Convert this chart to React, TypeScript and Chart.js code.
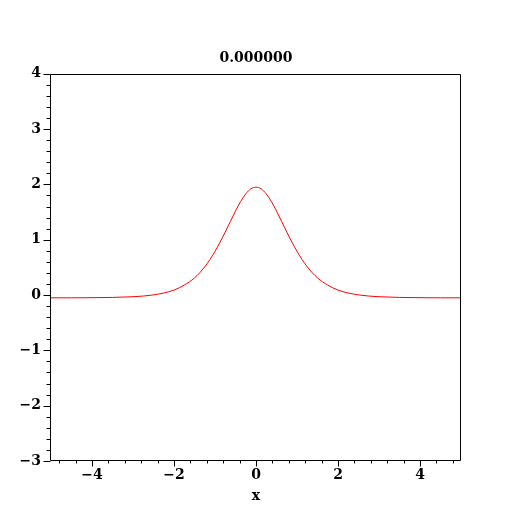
import React, { useEffect, useRef } from 'react';
import { Chart, registerables } from 'chart.js';

Chart.register(...registerables);

const titleText = '0.000000';
const xAxisLabel = 'x';

const xValues = [-5, -4.5, -4, -3.5, -3, -2.75, -2.5, -2.25, -2, -1.75, -1.5, -1.25, -1, -0.75, -0.5, -0.375, -0.25, -0.125, 0,
  0.125, 0.25, 0.375, 0.5, 0.75, 1, 1.25, 1.5, 1.75, 2, 2.25, 2.5, 2.75, 3, 3.5, 4, 4.5, 5];
const yValues = [-0.05, -0.05, -0.047, -0.043, -0.03, -0.018, 0.003, 0.037, 0.09, 0.18, 0.31, 0.51, 0.79, 1.14, 1.52, 1.69, 1.83, 1.92, 1.95,
  1.92, 1.83, 1.69, 1.52, 1.14, 0.79, 0.51, 0.31, 0.18, 0.09, 0.037, 0.003, -0.018, -0.03, -0.043, -0.047, -0.05, -0.05];

const xMin = -5;
const xMax = 5;
const yMin = -3;
const yMax = 4;
const xMajorTicks = [-4, -2, 0, 2, 4];
const yMajorTicks = [-3, -2, -1, 0, 1, 2, 3, 4];
const xMinorStep = 0.4;
const yMinorStep = 0.2;

const FONT = 'DejaVu Serif';

function fmt(v: number): string {
  return v < 0 ? '\u2212' + Math.abs(v) : String(v);
}

function minorList(min: number, max: number, step: number): number[] {
  const out: number[] = [];
  const start = Math.ceil(min / step - 1e-9);
  const end = Math.floor(max / step + 1e-9);
  for (let i = start; i <= end; i++) out.push(+(i * step).toFixed(6));
  return out;
}

const boxPlugin = {
  id: 'boxAndTicks',
  afterDraw(chart: any) {
    const { ctx, chartArea } = chart;
    const xs = chart.scales.x;
    const ys = chart.scales.y;
    ctx.save();
    ctx.strokeStyle = '#000';
    ctx.lineWidth = 1;
    const L = Math.round(chartArea.left) - 0.5;
    const R = Math.round(chartArea.right) - 0.5;
    const T = Math.round(chartArea.top) + 0.5;
    const B = Math.round(chartArea.bottom) - 0.5;
    ctx.beginPath();
    ctx.moveTo(L, T);
    ctx.lineTo(R, T);
    ctx.lineTo(R, B);
    ctx.lineTo(L, B);
    ctx.closePath();
    ctx.stroke();
    for (const v of minorList(yMin, yMax, yMinorStep)) {
      const major = yMajorTicks.some((m) => Math.abs(m - v) < 1e-6);
      const py = Math.round(ys.getPixelForValue(v)) + 0.5;
      const len = major ? 7 : 4;
      ctx.beginPath();
      ctx.moveTo(L, py);
      ctx.lineTo(L - len, py);
      ctx.stroke();
    }
    for (const v of minorList(xMin, xMax, xMinorStep)) {
      const major = xMajorTicks.some((m) => Math.abs(m - v) < 1e-6);
      const px = Math.round(xs.getPixelForValue(v)) + 0.5;
      const len = major ? 6 : 3;
      ctx.beginPath();
      ctx.moveTo(px, B);
      ctx.lineTo(px, B + len);
      ctx.stroke();
    }
    ctx.restore();
  },
};

export default function App() {
  const ref = useRef<HTMLCanvasElement | null>(null);
  useEffect(() => {
    if (!ref.current) return;
    const points = xValues.map((x, i) => ({ x, y: yValues[i] }));
    const chart = new Chart(ref.current, {
      type: 'line',
      data: {
        datasets: [
          {
            data: points,
            borderColor: '#ff0000',
            borderWidth: 1,
            pointRadius: 0,
            fill: false,
            cubicInterpolationMode: 'monotone',
            xAxisID: 'x',
            yAxisID: 'y',
          },
        ],
      },
      options: {
        responsive: false,
        animation: false,
        layout: { padding: 0 },
        plugins: {
          legend: { display: false },
          tooltip: { enabled: false },
          title: {
            display: true,
            text: titleText,
            color: '#000',
            font: { family: FONT, size: 14, weight: 'bold', lineHeight: 1.2 },
            padding: { top: 50, bottom: 7 },
          },
        },
        scales: {
          x: {
            type: 'linear',
            min: xMin,
            max: xMax,
            afterBuildTicks: (s: any) => {
              s.ticks = xMajorTicks.map((v) => ({ value: v }));
            },
            afterFit: (s: any) => {
              s.height = 51;
            },
            grid: { display: true, drawOnChartArea: false, drawTicks: true, tickLength: 6, tickColor: 'rgba(0,0,0,0)' },
            border: { display: false },
            ticks: {
              color: '#000',
              padding: 0,
              maxRotation: 0,
              autoSkip: false,
              font: { family: FONT, size: 14, weight: 'bold', lineHeight: 1.2 },
              callback: (v: any) => fmt(Number(v)),
            },
            title: {
              display: true,
              text: xAxisLabel,
              color: '#000',
              font: { family: FONT, size: 14, weight: 'bold', lineHeight: 1.2 },
              padding: { top: 4, bottom: 7 },
            },
          },
          y: {
            type: 'linear',
            min: yMin,
            max: yMax,
            afterBuildTicks: (s: any) => {
              s.ticks = yMajorTicks.map((v) => ({ value: v }));
            },
            afterFit: (s: any) => {
              s.width = 51;
            },
            grid: { display: true, drawOnChartArea: false, drawTicks: true, tickLength: 7, tickColor: 'rgba(0,0,0,0)' },
            border: { display: false },
            ticks: {
              color: '#000',
              padding: 3,
              autoSkip: false,
              font: { family: FONT, size: 14, weight: 'bold', lineHeight: 1.2 },
              callback: (v: any) => fmt(Number(v)),
            },
          },
          yRight: {
            type: 'linear',
            position: 'right',
            min: yMin,
            max: yMax,
            display: true,
            afterFit: (s: any) => {
              s.width = 51;
            },
            grid: { display: false, drawTicks: false },
            border: { display: false },
            ticks: { display: false },
          },
        },
      },
      plugins: [boxPlugin],
    } as any);
    return () => chart.destroy();
  }, []);
  return (
    <div style={{ position: 'absolute', left: 0, top: 0, width: 512, height: 512, background: '#fff' }}>
      <canvas ref={ref} width={512} height={512} style={{ display: 'block', width: 512, height: 512 }} />
    </div>
  );
}
